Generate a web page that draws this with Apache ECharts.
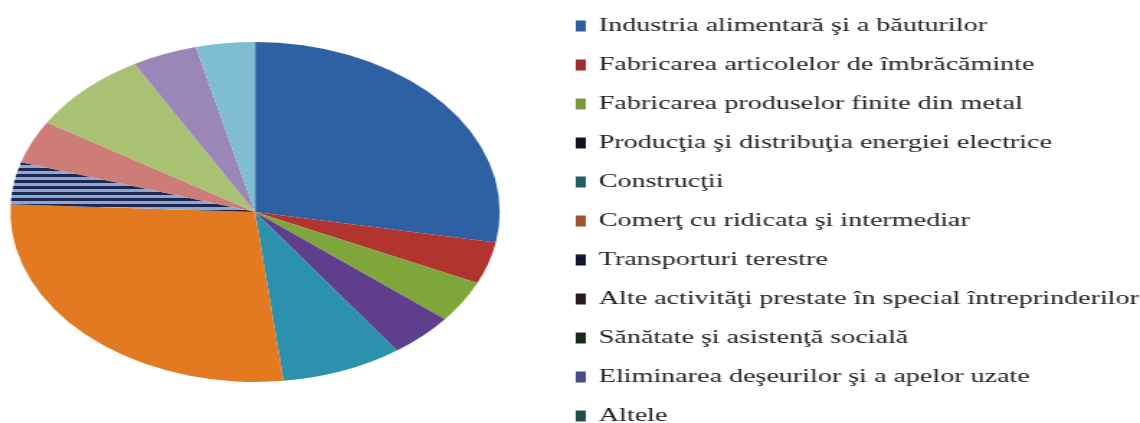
<!DOCTYPE html>
<html>
<head>
<meta charset="utf-8">
<script src="https://cdn.jsdelivr.net/npm/echarts@6/dist/echarts.min.js"></script>
<style>
html,body{margin:0;padding:0;background:#fff;overflow:hidden;}
#wrap{position:absolute;left:0;top:0;width:1140px;height:423px;overflow:hidden;}
#chart{position:absolute;left:0;top:0;width:792px;height:460px;transform:scaleX(1.4394);transform-origin:0 0;}
</style>
</head>
<body>
<div id="wrap"><div id="chart"></div></div>
<script>
const categories = [
  'Industria alimentară şi a băuturilor',
  'Fabricarea articolelor de îmbrăcăminte',
  'Fabricarea produselor finite din metal',
  'Producţia şi distribuţia energiei electrice',
  'Construcţii',
  'Comerţ cu ridicata şi intermediar',
  'Transporturi terestre',
  'Alte activităţi prestate în special întreprinderilor',
  'Sănătate şi asistenţă socială',
  'Eliminarea deşeurilor şi a apelor uzate',
  'Altele'
];
const values = [27.9, 4.0, 4.0, 4.3, 8.0, 27.6, 4.0, 4.1, 8.0, 4.3, 3.9];
const sliceColors = ['#2E60A4', '#B2342F', '#7FA63B', '#5F3F8D', '#2B91AD', '#E37A22',
  '#8EA8CC', '#CD7C78', '#A8C173', '#9B86B9', '#7FBDD1'];
const legendColors = ['#2F5E9E', '#A02C2C', '#7A9A3A', '#1A0D1F', '#1E5F66', '#A0522D',
  '#111111', '#2A1A22', '#1A2A1A', '#4A4A8A', '#1F4F4A'];

const pieData = categories.map((name, i) => {
  const d = { name: name, value: values[i], itemStyle: { color: sliceColors[i] } };
  if (i === 6) {
    d.itemStyle.decal = {
      symbol: 'rect', symbolSize: 1, dashArrayX: [[1, 0]], dashArrayY: [3, 3],
      rotation: 0, color: 'rgba(15,25,70,0.9)'
    };
  }
  return d;
});

const chart = echarts.init(document.getElementById('chart'), null, { renderer: 'canvas' });
chart.setOption({
  animation: false,
  legend: {
    orient: 'vertical',
    left: 400,
    top: 16,
    height: 440,
    padding: 0,
    itemWidth: 7,
    itemHeight: 11,
    itemGap: 19,
    selectedMode: false,
    icon: 'rect',
    textStyle: { fontFamily: 'Liberation Serif', fontSize: 19.5, color: '#222', lineHeight: 20, padding: [0, 0, 0, 4] },
    data: categories.map((name, i) => ({ name: name, itemStyle: { color: legendColors[i] } }))
  },
  series: [{
    type: 'pie',
    center: [177.2, 212],
    radius: 170,
    startAngle: 90,
    clockwise: true,
    label: { show: false },
    labelLine: { show: false },
    silent: true,
    itemStyle: { borderWidth: 0 },
    data: pieData
  }]
});
</script>
</body>
</html>
